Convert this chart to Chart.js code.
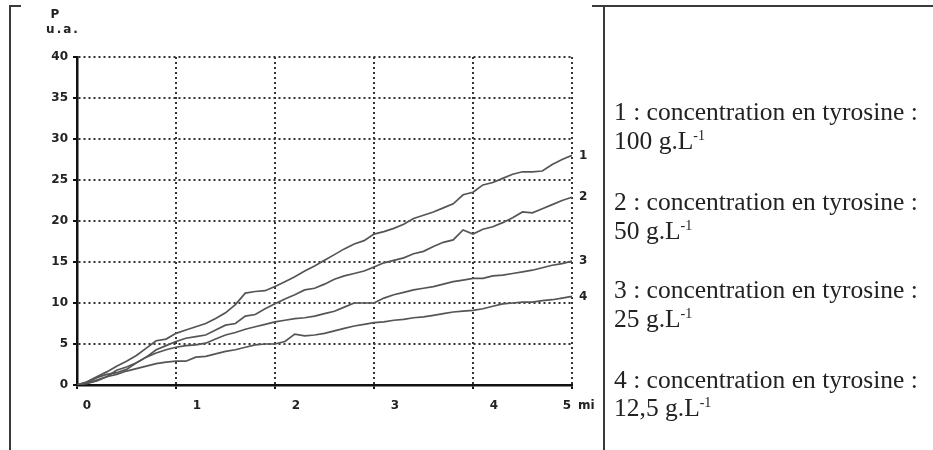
<!DOCTYPE html>
<html>
<head>
<meta charset="utf-8">
<script src="https://cdn.jsdelivr.net/npm/chart.js@4/dist/chart.umd.min.js"></script>
<style>
  html, body { margin: 0; padding: 0; background: #fff; }
  #wrap { position: relative; width: 933px; height: 450px; overflow: hidden; }
  #chart { position: absolute; left: 0; top: 0; }
  .line { position: absolute; background: #3a3a3a; }
  .legend { position: absolute; left: 614px; font-family: "Liberation Serif", serif; font-size: 25.5px;
            color: #222; line-height: 28px; white-space: nowrap; }
  .legend sup { font-size: 14px; vertical-align: 9px; line-height: 0; }
</style>
</head>
<body>
<div id="wrap">
  <canvas id="chart" width="933" height="450"></canvas>
  <!-- cadres -->
  <div class="line" style="left:9px;top:5px;width:2px;height:450px;"></div>
  <div class="line" style="left:9px;top:5px;width:12px;height:2px;"></div>
  <div class="line" style="left:592px;top:5px;width:341px;height:2px;"></div>
  <div class="line" style="left:603px;top:5px;width:2px;height:450px;"></div>

  <div class="legend" style="top:98px;">1 : concentration en tyrosine :</div>
  <div class="legend" style="top:127px;">100 g.L<sup>-1</sup></div>
  <div class="legend" style="top:188px;">2 : concentration en tyrosine :</div>
  <div class="legend" style="top:217px;">50 g.L<sup>-1</sup></div>
  <div class="legend" style="top:276px;">3 : concentration en tyrosine :</div>
  <div class="legend" style="top:305px;">25 g.L<sup>-1</sup></div>
  <div class="legend" style="top:366px;">4 : concentration en tyrosine :</div>
  <div class="legend" style="top:394px;">12,5 g.L<sup>-1</sup></div>
</div>

<script>
// temps (min)
const temps = [0, 0.1, 0.2, 0.3, 0.4, 0.5, 0.6, 0.7, 0.8, 0.9,
               1, 1.1, 1.2, 1.3, 1.4, 1.5, 1.6, 1.7, 1.8, 1.9,
               2, 2.1, 2.2, 2.3, 2.4, 2.5, 2.6, 2.7, 2.8, 2.9,
               3, 3.1, 3.2, 3.3, 3.4, 3.5, 3.6, 3.7, 3.8, 3.9,
               4, 4.1, 4.2, 4.3, 4.4, 4.5, 4.6, 4.7, 4.8, 4.9, 5];

// P (u.a.) pour chaque concentration
const courbe1 = [0, 0.4, 1.0, 1.6, 2.3, 2.9, 3.6, 4.5, 5.4, 5.6,
                 6.3, 6.7, 7.1, 7.5, 8.1, 8.8, 9.8, 11.2, 11.4, 11.5,
                 12.0, 12.6, 13.2, 13.9, 14.5, 15.2, 15.9, 16.6, 17.2, 17.6,
                 18.4, 18.7, 19.1, 19.6, 20.3, 20.7, 21.1, 21.6, 22.1, 23.2,
                 23.5, 24.4, 24.7, 25.2, 25.7, 26.0, 26.0, 26.1, 26.9, 27.5, 28.0];
const courbe2 = [0, 0.2, 0.5, 1.0, 1.8, 2.2, 2.7, 3.4, 4.3, 4.8,
                 5.3, 5.7, 5.9, 6.1, 6.7, 7.3, 7.5, 8.4, 8.6, 9.3,
                 9.9, 10.5, 11.0, 11.6, 11.8, 12.3, 12.9, 13.3, 13.6, 13.9,
                 14.4, 14.9, 15.2, 15.5, 16.0, 16.3, 16.9, 17.4, 17.7, 18.9,
                 18.4, 19.0, 19.3, 19.8, 20.4, 21.1, 21.0, 21.5, 22.0, 22.5, 22.9];
const courbe3 = [0, 0.3, 0.9, 1.3, 1.5, 1.9, 2.7, 3.4, 3.9, 4.3,
                 4.6, 4.8, 4.9, 5.1, 5.6, 6.1, 6.4, 6.8, 7.1, 7.4,
                 7.7, 7.9, 8.1, 8.2, 8.4, 8.7, 9.0, 9.5, 10.0, 10.0,
                 10.0, 10.6, 11.0, 11.3, 11.6, 11.8, 12.0, 12.3, 12.6, 12.8,
                 13.0, 13.0, 13.3, 13.4, 13.6, 13.8, 14.0, 14.3, 14.6, 14.8, 15.1];
const courbe4 = [0, 0.2, 0.6, 1.0, 1.3, 1.7, 2.0, 2.3, 2.6, 2.8,
                 2.9, 2.9, 3.4, 3.5, 3.8, 4.1, 4.3, 4.6, 4.9, 5.0,
                 5.0, 5.3, 6.2, 6.0, 6.1, 6.3, 6.6, 6.9, 7.2, 7.4,
                 7.6, 7.7, 7.9, 8.0, 8.2, 8.3, 8.5, 8.7, 8.9, 9.0,
                 9.1, 9.3, 9.6, 9.9, 10.0, 10.1, 10.1, 10.3, 10.4, 10.6, 10.8];

const courbes = [courbe1, courbe2, courbe3, courbe4];
const noms = ['1', '2', '3', '4'];
const xTicks = [0, 1, 2, 3, 4, 5];
const uniteX = 'mi';
const axeY = ['P', 'u.a.'];

const fontAxe = 'bold 12px "DejaVu Sans", sans-serif';

// étiquettes dessinées à la main (axe x décalé, numéros de courbes, titre de l'axe y)
const etiquettes = {
    id: 'etiquettes',
    afterDraw(chart) {
        const { ctx, scales: { x, y } } = chart;
        ctx.save();
        ctx.font = fontAxe;
        ctx.fillStyle = '#222';
        ctx.textBaseline = 'middle';
        ctx.textAlign = 'center';
        xTicks.forEach(v => {
            let dx = 21;
            if (v === 0) dx = 10;
            if (v === 5) dx = -5;
            ctx.fillText(String(v), x.getPixelForValue(v) + dx, y.bottom + 21);
        });
        ctx.textAlign = 'left';
        ctx.fillText(uniteX, x.getPixelForValue(5) + 6, y.bottom + 21);

        // numéros des courbes
        courbes.forEach((c, i) => {
            const pts = chart.getDatasetMeta(i).data;
            const last = pts[pts.length - 1];
            ctx.fillText(noms[i], last.x + 7, last.y);
        });

        // titre axe y
        ctx.textAlign = 'center';
        ctx.fillText(axeY[0], 55, 15);
        ctx.letterSpacing = '2px';
        ctx.fillText(axeY[1], 63, 30);
        ctx.restore();
    }
};

const ctx = document.getElementById('chart').getContext('2d');
new Chart(ctx, {
    type: 'line',
    data: {
        datasets: courbes.map((c, i) => ({
            label: noms[i],
            data: temps.map((t, k) => ({ x: t, y: c[k] })),
            borderColor: '#555',
            borderWidth: 1.7,
            pointRadius: 0,
            tension: 0,
            fill: false
        }))
    },
    options: {
        responsive: false,
        animation: false,
        layout: { padding: { top: 57, right: 361, left: 0, bottom: 0 } },
        plugins: { legend: { display: false }, tooltip: { enabled: false } },
        scales: {
            x: {
                type: 'linear',
                min: 0,
                max: 5,
                ticks: { stepSize: 1, display: false },
                grid: { color: '#333', lineWidth: 2, drawTicks: true, tickLength: 4,
                        tickColor: '#111', tickWidth: 2 },
                border: { display: true, color: '#111', width: 2.5, dash: [2, 3] },
                afterFit(scale) { scale.height = 65; }
            },
            y: {
                min: 0,
                max: 40,
                ticks: { stepSize: 5, color: '#222', font: { family: '"DejaVu Sans", sans-serif', size: 12, weight: 'bold' }, padding: 5 },
                grid: { color: '#333', lineWidth: 2, drawTicks: true, tickLength: 4,
                        tickColor: '#111', tickWidth: 2 },
                border: { display: true, color: '#111', width: 2.5, dash: [2, 3] },
                afterFit(scale) { scale.width = 77; }
            }
        }
    },
    plugins: [etiquettes]
});
</script>
</body>
</html>
